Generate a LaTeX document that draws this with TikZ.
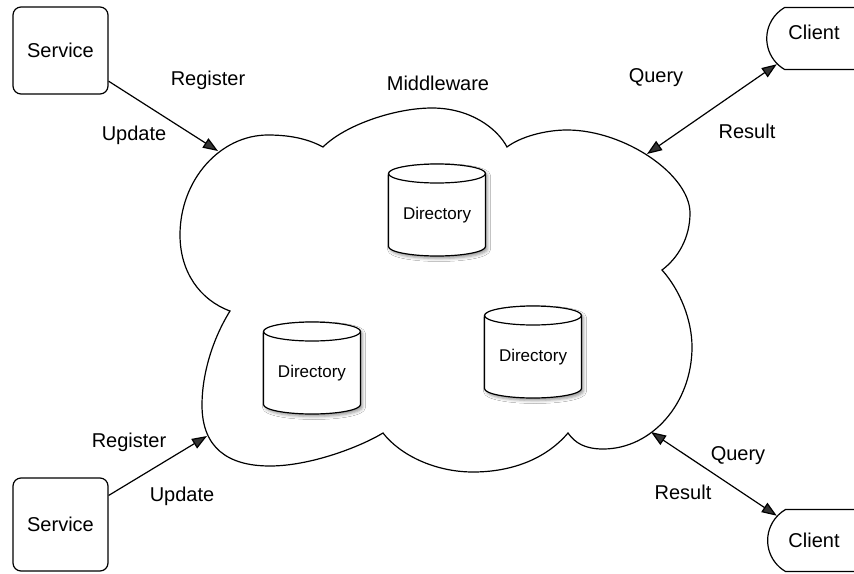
\documentclass[tikz,border=0pt]{standalone}
\usepackage{fontspec}
\setmainfont{Liberation Sans}
\usetikzlibrary{arrows.meta,calc,shapes.misc,shadows.blur}

\begin{document}
\begin{tikzpicture}[x=1pt,y=1pt,line width=1.2pt,
  lbl/.style={font=\fontsize{20}{24}\selectfont,text height=14.3pt,text depth=0pt,inner sep=0pt},
  dirlbl/.style={font=\fontsize{17}{20}\selectfont,text height=12.2pt,text depth=0pt,inner sep=0pt},
  svcbox/.style={lbl,draw,rounded corners=8pt,minimum width=95pt},
  client/.style={lbl,draw,rounded rectangle,rounded rectangle arc length=120,
    rounded rectangle right arc=none,minimum width=92pt,minimum height=62pt},
  cylfill/.style={draw,fill=white,
    blur shadow={shadow xshift=2pt,shadow yshift=-2.5pt,shadow blur radius=3pt,shadow opacity=40}},
  tip/.tip={Triangle[length=15pt,width=11pt]},
  flow/.style={-tip},
  both/.style={tip-tip}]

\useasboundingbox (0,-573) rectangle (854,0);
\fill[white] (0,-573) rectangle (854,0);
\clip (0,-573) rectangle (854,0);

% cusps of the middleware cloud
\coordinate (k1) at (230,-311);
\coordinate (k2) at (323,-147);
\coordinate (k3) at (507,-147);
\coordinate (k4) at (662,-270);
\coordinate (k5) at (568,-433);
\coordinate (k6) at (383,-433);

% middleware cloud
\draw (k1) .. controls (200,-300) and (180,-272) .. (180,-235)
  .. controls (180,-180) and (220,-135) .. (268,-135)
  .. controls (293,-135) and (310,-140) .. (k2)
  .. controls (345,-125) and (395,-108) .. (432,-108)
  .. controls (470,-108) and (497,-128) .. (k3)
  .. controls (520,-137) and (545,-130) .. (567,-130)
  .. controls (625,-130) and (690,-175) .. (690,-213)
  .. controls (690,-238) and (678,-258) .. (k4)
  .. controls (680,-290) and (692,-320) .. (692,-347)
  .. controls (692,-403) and (652,-449) .. (603,-449)
  .. controls (585,-449) and (575,-443) .. (k5)
  .. controls (545,-460) and (510,-472) .. (473,-472)
  .. controls (435,-472) and (400,-455) .. (k6)
  .. controls (360,-447) and (310,-466) .. (270,-466)
  .. controls (228,-466) and (202,-448) .. (202,-405)
  .. controls (202,-375) and (212,-340) .. cycle;

% connection points on the cloud border
\coordinate (cNW) at (218,-151);
\coordinate (cNE) at (647,-154);
\coordinate (cSE) at (651,-432);
\coordinate (cSW) at (207,-436);

% directory cylinders
\coordinate (dA) at (437,-213);
\coordinate (dB) at (312,-371);
\coordinate (dC) at (533,-355);
\foreach \n in {dA,dB,dC}{
  \path[cylfill] ($(\n)+(-48.5,39.5)$) -- ($(\n)+(-48.5,-33.5)$)
    arc[start angle=180,end angle=360,x radius=48.5,y radius=9.5]
    -- ($(\n)+(48.5,39.5)$)
    arc[start angle=0,end angle=180,x radius=48.5,y radius=9.5] -- cycle;
  \draw ($(\n)+(-48.5,39.5)$) arc[start angle=180,end angle=360,x radius=48.5,y radius=9.5];
}
\node[dirlbl] (dirA) at (dA) {Directory};
\node[dirlbl] (dirB) at (dB) {Directory};
\node[dirlbl] (dirC) at (dC) {Directory};

% services and clients
\node[svcbox,minimum height=87pt] (s1) at (60.5,-50.5) {Service};
\node[svcbox,minimum height=93pt] (s2) at (60.5,-524.5) {Service};
\node[client,text depth=12pt] (cA) at (814,-38.5) {Client};
\node[client] (cB) at (814,-540.5) {Client};

% connectors
\draw[flow] (s1) -- (cNW);
\draw[flow] (s2) -- (cSW);
\draw[both] (cNE) -- (cA);
\draw[both] (cSE) -- (cB);

% labels
\node[lbl] (mw) at (438,-83) {Middleware};
\node[lbl] (regT) at (208,-78) {Register};
\node[lbl] (updT) at (134,-133) {Update};
\node[lbl] (qT) at (656,-75) {Query};
\node[lbl] (resT) at (747,-131) {Result};
\node[lbl] (regB) at (129,-440) {Register};
\node[lbl] (updB) at (182,-494) {Update};
\node[lbl] (qB) at (738,-453) {Query};
\node[lbl] (resB) at (683,-492) {Result};
\end{tikzpicture}
\end{document}
